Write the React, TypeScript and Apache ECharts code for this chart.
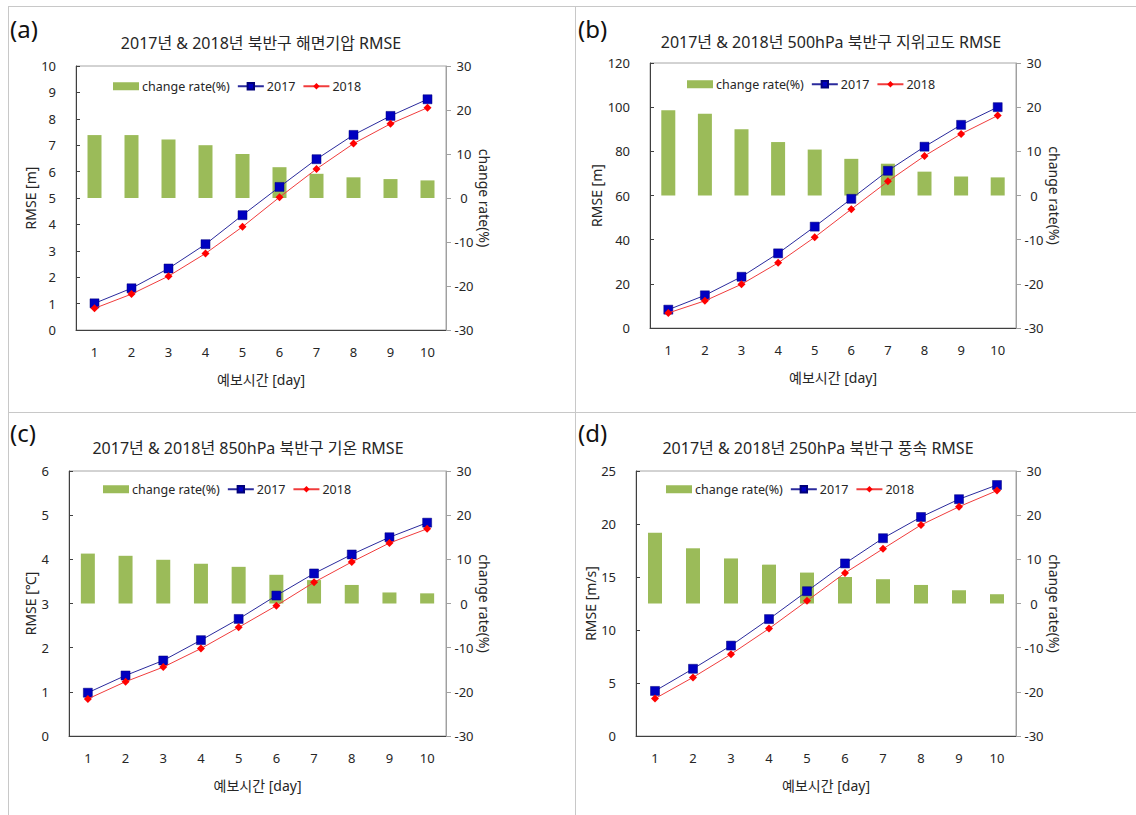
import React, { useEffect, useRef } from "react";
import * as echarts from "echarts";

// ---------- data ----------
const days = ["1", "2", "3", "4", "5", "6", "7", "8", "9", "10"];

// (a) sea-level pressure
const slpRate = [14.3, 14.3, 13.3, 12.0, 10.0, 7.0, 5.5, 4.7, 4.3, 4.0];
const slp2017 = [1.01, 1.58, 2.33, 3.25, 4.35, 5.42, 6.47, 7.39, 8.11, 8.74];
const slp2018 = [0.82, 1.36, 2.04, 2.9, 3.91, 5.03, 6.1, 7.06, 7.81, 8.42];

// (b) 500hPa geopotential height
const gphRate = [19.3, 18.5, 15.0, 12.1, 10.4, 8.3, 7.2, 5.4, 4.3, 4.1];
const gph2017 = [8.3, 14.8, 23.2, 33.8, 45.9, 58.5, 71.2, 82.1, 92.0, 100.0];
const gph2018 = [6.8, 12.3, 19.8, 29.5, 41.1, 53.8, 66.4, 77.9, 87.9, 96.2];

// (c) 850hPa temperature
const t850Rate = [11.3, 10.8, 9.9, 9.0, 8.3, 6.5, 5.3, 4.2, 2.5, 2.3];
const t850y2017 = [0.98, 1.37, 1.71, 2.17, 2.65, 3.18, 3.68, 4.11, 4.5, 4.83];
const t850y2018 = [0.84, 1.23, 1.56, 1.98, 2.46, 2.95, 3.48, 3.94, 4.37, 4.69];

// (d) 250hPa wind speed
const ws250Rate = [16.0, 12.5, 10.2, 8.8, 7.0, 6.0, 5.5, 4.2, 3.0, 2.1];
const ws250y2017 = [4.25, 6.34, 8.53, 11.03, 13.66, 16.28, 18.66, 20.66, 22.34, 23.68];
const ws250y2018 = [3.53, 5.53, 7.72, 10.13, 12.75, 15.38, 17.66, 19.91, 21.63, 23.15];

const panelLabels = ["(a)", "(b)", "(c)", "(d)"];
const panelTitles = [
  "2017년 & 2018년 북반구 해면기압 RMSE",
  "2017년 & 2018년 500hPa 북반구 지위고도 RMSE",
  "2017년 & 2018년 850hPa 북반구 기온 RMSE",
  "2017년 & 2018년 250hPa 북반구 풍속 RMSE",
];
const leftNames = ["RMSE [m]", "RMSE [m]", "RMSE [℃]", "RMSE [m/s]"];
const leftMax = [10, 120, 6, 25];
const leftInterval = [1, 20, 1, 5];
const rateMin = -30;
const rateMax = 30;
const rateInterval = 10;
const xName = "예보시간 [day]";
const rightName = "change rate(%)";
const seriesNames = ["change rate(%)", "2017", "2018"];

const rates = [slpRate, gphRate, t850Rate, ws250Rate];
const y2017 = [slp2017, gph2017, t850y2017, ws250y2017];
const y2018 = [slp2018, gph2018, t850y2018, ws250y2018];

// ---------- layout ----------
const grids = [
  { left: 76, top: 66, width: 370, height: 264 },
  { left: 650, top: 63, width: 366, height: 265 },
  { left: 69, top: 471, width: 377, height: 265 },
  { left: 636, top: 471, width: 380, height: 265 },
];
const labelPos = [
  { x: 10, y: 28 },
  { x: 578, y: 28 },
  { x: 10, y: 432 },
  { x: 578, y: 432 },
];
const titlePos = [
  { x: 261, y: 43 },
  { x: 831, y: 42 },
  { x: 248, y: 448 },
  { x: 818, y: 448 },
];
const legendPos = [
  { x: 113, y: 80 },
  { x: 687, y: 78 },
  { x: 103, y: 483 },
  { x: 666, y: 483 },
];
const leftNameGap = [38, 45, 30, 31];

const FONT = '"Noto Sans", "Noto Sans CJK KR", sans-serif';
const GREEN = "#9bbb59";
const BLUE_LINE = "#2a2a9c";
const BLUE_MARK = "#0000c0";
const RED_LINE = "#f03c3c";
const RED_MARK = "#ff0000";
const TXT = "#262626";

export default function App() {
  const ref = useRef<HTMLDivElement>(null);

  useEffect(() => {
    if (!ref.current) return;
    const chart = echarts.init(ref.current, null, { renderer: "svg" });

    const xAxis: any[] = [];
    const yAxis: any[] = [];
    const series: any[] = [];
    const legend: any[] = [];
    const graphic: any[] = [];

    grids.forEach((g, i) => {
      xAxis.push({
        type: "category",
        gridIndex: i,
        data: days,
        boundaryGap: true,
        name: xName,
        nameLocation: "middle",
        nameGap: 42,
        nameTextStyle: { fontFamily: FONT, fontSize: 14, color: TXT },
        axisLine: { lineStyle: { color: "#404040", width: 1 } },
        axisTick: { inside: true, length: 4, lineStyle: { color: "#404040" } },
        axisLabel: { fontFamily: FONT, fontSize: 13, color: TXT, margin: 15 },
        splitLine: { show: false },
      });
      yAxis.push({
        type: "value",
        gridIndex: i,
        position: "left",
        min: 0,
        max: leftMax[i],
        interval: leftInterval[i],
        name: leftNames[i],
        nameLocation: "middle",
        nameGap: leftNameGap[i],
        nameTextStyle: { fontFamily: FONT, fontSize: 14, color: TXT },
        axisLine: { show: true, lineStyle: { color: "#404040", width: 1 } },
        axisTick: { show: true, inside: true, length: 4, lineStyle: { color: "#404040" } },
        axisLabel: { fontFamily: FONT, fontSize: 13, color: TXT, margin: 20 },
        splitLine: { show: false },
      });
      yAxis.push({
        type: "value",
        gridIndex: i,
        position: "right",
        min: rateMin,
        max: rateMax,
        interval: rateInterval,
        name: rightName,
        nameLocation: "middle",
        nameRotate: -90,
        nameGap: 30,
        nameTextStyle: { fontFamily: FONT, fontSize: 14, color: TXT },
        axisLine: { show: true, lineStyle: { color: "#a0a0a0", width: 1 } },
        axisTick: { show: true, inside: false, length: 5, lineStyle: { color: "#a0a0a0" } },
        axisLabel: { fontFamily: FONT, fontSize: 13, color: TXT, margin: 18, align: "center" },
        splitLine: { show: false },
      });

      series.push({
        type: "bar",
        name: seriesNames[0],
        xAxisIndex: i,
        yAxisIndex: i * 2 + 1,
        data: rates[i],
        barWidth: 14,
        itemStyle: { color: GREEN },
        z: 1,
      });
      series.push({
        type: "line",
        name: seriesNames[1],
        xAxisIndex: i,
        yAxisIndex: i * 2,
        data: y2017[i],
        symbol: "rect",
        symbolSize: 9,
        itemStyle: { color: BLUE_MARK, borderColor: "#00007a", borderWidth: 0.5 },
        lineStyle: { color: BLUE_LINE, width: 1 },
        z: 3,
      });
      series.push({
        type: "line",
        name: seriesNames[2],
        xAxisIndex: i,
        yAxisIndex: i * 2,
        data: y2018[i],
        symbol: "diamond",
        symbolSize: 8,
        itemStyle: { color: RED_MARK },
        lineStyle: { color: RED_LINE, width: 1 },
        z: 4,
      });

      legend.push({
        left: legendPos[i].x,
        top: legendPos[i].y,
        itemWidth: 26,
        itemHeight: 8,
        itemGap: 7,
        padding: 0,
        textStyle: { fontFamily: FONT, fontSize: 12.5, color: TXT, padding: [0, 0, 0, -2] },
        selectedMode: false,
        data: [
          { name: seriesNames[0], icon: "rect" },
          { name: seriesNames[1] },
          { name: seriesNames[2] },
        ],
      });

      graphic.push({
        type: "text",
        x: labelPos[i].x,
        y: labelPos[i].y,
        style: {
          text: panelLabels[i],
          font: `24px ${FONT}`,
          fill: "#111",
          verticalAlign: "middle",
        },
      });
      graphic.push({
        type: "text",
        x: titlePos[i].x,
        y: titlePos[i].y,
        style: {
          text: panelTitles[i],
          font: `16px ${FONT}`,
          fill: TXT,
          align: "center",
          verticalAlign: "middle",
        },
      });
    });

    const borderColor = "#c8c8c8";
    graphic.push(
      { type: "line", shape: { x1: 8, y1: 6.5, x2: 1136, y2: 6.5 }, style: { stroke: borderColor, lineWidth: 1 } },
      { type: "line", shape: { x1: 8.5, y1: 6, x2: 8.5, y2: 815 }, style: { stroke: borderColor, lineWidth: 1 } },
      { type: "line", shape: { x1: 575.5, y1: 6, x2: 575.5, y2: 815 }, style: { stroke: borderColor, lineWidth: 1 } },
      { type: "line", shape: { x1: 8, y1: 412.5, x2: 1136, y2: 412.5 }, style: { stroke: borderColor, lineWidth: 1 } }
    );

    chart.setOption({
      animation: false,
      backgroundColor: "#ffffff",
      grid: grids.map((g) => ({
        ...g,
        show: true,
        borderColor: "#a6a6a6",
        borderWidth: 1,
        backgroundColor: "transparent",
        containLabel: false,
      })),
      xAxis,
      yAxis,
      series,
      legend,
      graphic,
    });

    return () => chart.dispose();
  }, []);

  return (
    <div
      ref={ref}
      style={{ position: "absolute", left: 0, top: 0, width: 1136, height: 815 }}
    />
  );
}
